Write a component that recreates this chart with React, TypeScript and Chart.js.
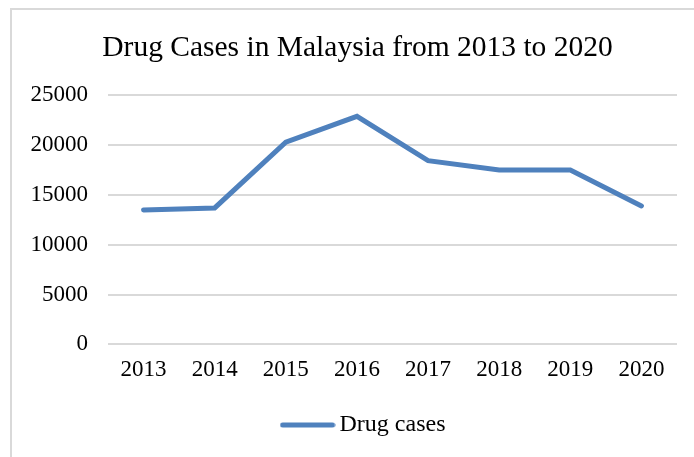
import React, { useEffect, useRef } from "react";
import { Chart, registerables } from "chart.js";

Chart.register(...registerables);

const categories = ["2013", "2014", "2015", "2016", "2017", "2018", "2019", "2020"];
const drugCases = [13500, 13700, 20300, 22900, 18450, 17500, 17500, 13900];
const yTicks = [0, 5000, 10000, 15000, 20000, 25000];
const seriesName = "Drug cases";
const titleText = "Drug Cases in Malaysia from 2013 to 2020";

const FONT = "'Liberation Serif', 'Times New Roman', serif";
const LINE_COLOR = "#4F81BD";
const GRID_COLOR = "#d9d9d9";
const LEGEND_SHIFT = 23;
const TITLE_SHIFT = 14;

const borderPlugin = {
  id: "frame",
  beforeDraw(chart: any) {
    const { ctx, width, height } = chart;
    ctx.save();
    ctx.fillStyle = "#ffffff";
    ctx.fillRect(0, 0, width, height);
    ctx.strokeStyle = GRID_COLOR;
    ctx.lineWidth = 2;
    ctx.beginPath();
    ctx.moveTo(11, height + 5);
    ctx.lineTo(11, 9);
    ctx.lineTo(width + 5, 9);
    ctx.stroke();
    ctx.restore();
  },
  afterLayout(chart: any) {
    const lg = chart.legend;
    if (lg) {
      lg.left += LEGEND_SHIFT;
      lg.right += LEGEND_SHIFT;
    }
    const tb = chart.titleBlock;
    if (tb) {
      tb.left += TITLE_SHIFT;
      tb.right += TITLE_SHIFT;
    }
  },
};

function makeLegendIcon(): HTMLCanvasElement {
  const c = document.createElement("canvas");
  c.width = 56;
  c.height = 8;
  const g = c.getContext("2d")!;
  g.strokeStyle = LINE_COLOR;
  g.lineWidth = 5;
  g.lineCap = "round";
  g.beginPath();
  g.moveTo(3, 4);
  g.lineTo(53, 4);
  g.stroke();
  return c;
}

export default function App() {
  const ref = useRef<HTMLCanvasElement | null>(null);
  useEffect(() => {
    document.body.style.margin = "0";
    const canvas = ref.current;
    if (!canvas) return;
    const icon = makeLegendIcon();
    const chart = new Chart(canvas, {
      type: "line",
      data: {
        labels: categories,
        datasets: [
          {
            label: seriesName,
            data: drugCases,
            borderColor: LINE_COLOR,
            backgroundColor: LINE_COLOR,
            borderWidth: 5,
            borderCapStyle: "round",
            borderJoinStyle: "miter",
            pointRadius: 0,
            pointHoverRadius: 0,
            pointStyle: icon,
            tension: 0,
            fill: false,
          },
        ],
      },
      options: {
        responsive: false,
        animation: false,
        layout: { padding: { left: 10, right: 17, top: 0, bottom: 10 } },
        plugins: {
          title: {
            display: true,
            text: titleText,
            color: "#000",
            font: { family: FONT, size: 29.5, weight: "normal" },
            padding: { top: 31, bottom: 29 },
          },
          legend: {
            display: true,
            position: "bottom",
            labels: {
              usePointStyle: true,
              pointStyleWidth: 40,
              color: "#000",
              font: { family: FONT, size: 24 },
              padding: 17,
            },
          },
          tooltip: { enabled: false },
        },
        scales: {
          x: {
            grid: { display: false, drawTicks: false },
            border: { display: false },
            offset: true,
            ticks: { color: "#000", font: { family: FONT, size: 23 }, padding: 12, maxRotation: 0 },
          },
          y: {
            min: 0,
            max: 25000,
            afterFit(scale: any) {
              scale.width = 98;
            },
            afterBuildTicks(scale: any) {
              scale.ticks = yTicks.map((v) => ({ value: v }));
            },
            grid: { color: GRID_COLOR, lineWidth: 2, drawTicks: false },
            border: { display: false },
            ticks: {
              color: "#000",
              font: { family: FONT, size: 23 },
              padding: 20,
              callback: (v: any) => String(v),
            },
          },
        },
      },
      plugins: [borderPlugin],
    } as any);
    return () => chart.destroy();
  }, []);
  return <canvas ref={ref} width={694} height={457} style={{ display: "block" }} />;
}
